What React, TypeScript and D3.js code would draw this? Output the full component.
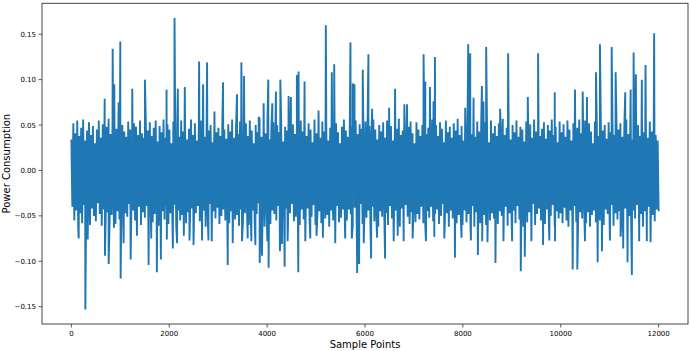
import React, { useMemo } from 'react';
import * as d3 from 'd3';

// Values in thousandths of the plotted unit.
// Band envelope: one max and one min for every 40-sample bin (300 bins).
const bandUpper = [
  34, 52, 41, 55, 38, 47, 56, 33, 44, 53, 39, 49, 30, 45, 55, 36, 51, 42, 48, 57,
  40, 53, 35, 46, 56, 31, 50, 43, 37, 54, 45, 33, 52, 48, 39, 55, 41, 36, 50, 44,
  53, 38, 47, 55, 32, 49, 42, 56, 36, 51, 45, 30, 54, 40, 48, 37, 55, 43, 50, 34,
  46, 56, 39, 52, 33, 48, 55, 41, 37, 53, 44, 50, 31, 56, 42, 47, 38, 54, 45, 35,
  51, 43, 56, 36, 49, 40, 54, 33, 47, 52, 38, 55, 44, 30, 50, 42, 57, 37, 48, 41,
  55, 34, 46, 53, 39, 50, 42, 56, 32, 48, 44, 54, 37, 51, 40, 46, 35, 55, 43, 49,
  38, 52, 45, 31, 56, 41, 49, 36, 54, 43, 50, 33, 47, 55, 39, 52, 42, 30, 48, 56,
  44, 37, 53, 48, 35, 55, 40, 51, 46, 32, 54, 42, 49, 38, 56, 45, 34, 50, 43, 53,
  36, 55, 42, 49, 33, 52, 46, 57, 39, 44, 51, 35, 48, 54, 41, 30, 53, 45, 38, 50,
  54, 40, 47, 35, 56, 43, 50, 38, 53, 46, 31, 55, 42, 48, 36, 52, 44, 57, 39, 49,
  33, 51, 45, 56, 40, 48, 37, 54, 43, 50, 35, 53, 46, 31, 55, 41, 49, 38, 52, 44,
  57, 39, 47, 53, 34, 50, 42, 55, 37, 48, 45, 32, 54, 40, 51, 36, 56, 43, 49, 38,
  46, 53, 35, 50, 44, 56, 39, 48, 31, 54, 42, 51, 37, 55, 45, 33, 52, 40, 47, 56,
  41, 49, 55, 36, 52, 43, 30, 54, 47, 38, 56, 44, 50, 35, 53, 42, 48, 39, 55, 45,
  52, 37, 48, 56, 40, 46, 34, 53, 44, 50, 38, 55, 42, 49, 36, 54, 43, 51, 39, 33,
];

const bandLower = [
  -40, -55, -44, -62, -47, -58, -38, -52, -45, -60, -42, -50, -56, -36, -48, -61, -43, -53, -46, -57,
  -49, -38, -59, -45, -54, -41, -62, -47, -51, -37, -58, -44, -55, -48, -40, -60, -46, -52, -39, -56,
  -43, -57, -48, -36, -61, -50, -45, -54, -40, -59, -47, -52, -38, -62, -44, -55, -49, -41, -58, -46,
  -53, -42, -60, -47, -39, -56, -51, -44, -62, -48, -37, -57, -45, -53, -41, -59, -50, -43, -55, -47,
  -58, -45, -40, -54, -49, -61, -43, -56, -47, -38, -60, -52, -44, -57, -48, -36, -55, -46, -62, -41,
  -50, -59, -44, -48, -55, -39, -62, -46, -53, -42, -58, -47, -37, -56, -51, -45, -60, -43, -54, -49,
  -42, -56, -51, -38, -60, -47, -45, -58, -40, -53, -49, -62, -44, -55, -46, -39, -57, -52, -43, -61,
  -55, -43, -48, -61, -41, -54, -50, -37, -59, -46, -52, -44, -58, -40, -56, -49, -62, -45, -51, -38,
  -47, -60, -39, -53, -57, -44, -49, -62, -42, -55, -38, -51, -59, -46, -43, -57, -48, -54, -40, -58,
  -61, -45, -52, -40, -56, -48, -43, -59, -50, -37, -55, -47, -62, -44, -53, -41, -58, -49, -46, -60,
  -44, -57, -48, -54, -39, -62, -46, -51, -58, -42, -49, -60, -38, -55, -47, -53, -41, -59, -45, -50,
  -56, -40, -61, -47, -52, -44, -58, -39, -54, -49, -62, -43, -57, -46, -51, -37, -60, -48, -42, -55,
  -48, -59, -43, -56, -50, -38, -61, -45, -53, -47, -58, -41, -55, -62, -44, -52, -39, -57, -49, -46,
  -53, -41, -58, -46, -62, -49, -44, -57, -40, -55, -51, -60, -43, -48, -56, -38, -61, -47, -54, -45,
  -59, -47, -42, -55, -50, -61, -44, -53, -38, -57, -48, -62, -45, -52, -40, -58, -49, -56, -43, -45,
];

// Upward spikes: sample index and value
const peakSamples = [
  681, 844, 877, 966, 1000, 1244, 1503, 1945, 2108, 2176, 2318, 2610, 2692, 2773, 2924,
  3100, 3385, 3474, 3528, 3828, 3929, 4024, 4106, 4180, 4270, 4439, 4486, 4608, 4643, 4765,
  5051, 5200, 5322, 5371, 5703, 5750, 5785, 5954, 6070, 6146, 6492, 6614, 6804, 6859, 7197,
  7232, 7328, 7400, 7430, 8048, 8109, 8150, 8218, 8389, 8421, 8476, 8761, 8925, 9327, 9537,
  9877, 10291, 10448, 10536, 10720, 10801, 11040, 11121, 11318, 11428, 11489, 11535, 11657, 11732, 11908,
];
const peakValues = [
  79, 134, 95, 75, 142, 90, 100, 89, 168, 90, 92, 120, 95, 119, 65,
  97, 84, 119, 104, 59, 74, 100, 74, 87, 100, 82, 81, 105, 109, 98,
  66, 160, 108, 117, 141, 96, 95, 111, 128, 68, 69, 90, 73, 73, 128,
  98, 92, 76, 125, 69, 139, 129, 80, 93, 76, 136, 68, 129, 81, 129,
  86, 89, 87, 81, 108, 139, 136, 108, 86, 89, 130, 106, 100, 116, 151,
];

// Downward spikes: sample index and value
const dipSamples = [
  150, 286, 334, 687, 762, 871, 1007, 1068, 1211, 1340, 1578, 1632, 1747, 1829, 1951,
  2074, 2161, 2298, 2414, 2496, 2671, 2801, 2869, 3195, 3297, 3487, 3603, 3678, 3760, 3848,
  3895, 4005, 4031, 4262, 4303, 4358, 4419, 4637, 4780, 4882, 5010, 5139, 5392, 5595, 5730,
  5840, 5880, 5974, 6125, 6247, 6410, 6586, 6668, 6790, 6973, 7246, 7416, 7620, 7838, 7973,
  8164, 8307, 8395, 8503, 8666, 8829, 9006, 9183, 9265, 9400, 9638, 9767, 9883, 10244, 10338,
  10495, 10754, 10842, 11005, 11223, 11276, 11365, 11453, 11602, 11759, 11835,
];
const dipValues = [
  -75, -153, -76, -94, -103, -63, -119, -80, -98, -72, -104, -75, -112, -98, -76,
  -86, -80, -72, -77, -82, -77, -77, -78, -104, -80, -78, -75, -78, -82, -102,
  -94, -78, -107, -89, -81, -106, -78, -112, -78, -75, -72, -74, -80, -75, -75,
  -113, -103, -80, -97, -74, -97, -78, -72, -78, -75, -78, -73, -75, -96, -74,
  -77, -93, -78, -79, -102, -78, -78, -111, -95, -78, -82, -77, -78, -109, -109,
  -78, -101, -89, -77, -73, -86, -101, -115, -78, -78, -79,
];

const xTicks = [0, 2000, 4000, 6000, 8000, 10000, 12000];
const yTicks = [-0.15, -0.1, -0.05, 0, 0.05, 0.1, 0.15];

const W = 690;
const H = 351;
const M = { left: 42, right: 2, top: 3.3, bottom: 27 };
const LAST = 12000;

const fmtY = (v: number) => v.toFixed(2).replace('-', '\u2212');

const App = () => {
  const series = useMemo(() => {
    const pts: [number, number][] = [];
    const n = bandUpper.length * 2;
    bandUpper.forEach((u, k) => {
      pts.push([(2 * k) * LAST / (n - 1), u / 1000]);
      pts.push([(2 * k + 1) * LAST / (n - 1), bandLower[k] / 1000]);
    });
    peakSamples.forEach((s, i) => pts.push([s, peakValues[i] / 1000]));
    dipSamples.forEach((s, i) => pts.push([s, dipValues[i] / 1000]));
    return pts.sort((a, b) => a[0] - b[0]);
  }, []);

  const [yMin, yMax] = d3.extent(series, d => d[1]) as [number, number];
  const yPad = (yMax - yMin) * 0.05;

  const x = d3.scaleLinear()
    .domain([-LAST * 0.05, LAST * 1.05])
    .range([M.left, W - M.right]);
  const y = d3.scaleLinear()
    .domain([yMin - yPad, yMax + yPad])
    .range([H - M.bottom, M.top]);

  const line = d3.line<[number, number]>()
    .x(d => x(d[0]))
    .y(d => y(d[1]));

  const bottom = H - M.bottom;

  return (
    <svg width={W} height={H} style={{ position: 'absolute', left: 0, top: 0 }}
      fontFamily="DejaVu Sans, sans-serif">
      <rect x={0} y={0} width={W} height={H} fill="#fff" />
      <path d={line(series) || ''} fill="none" stroke="#1f77b4" strokeWidth={1.9}
        strokeLinejoin="miter" strokeMiterlimit={2} />

      <rect x={M.left} y={M.top} width={W - M.right - M.left} height={bottom - M.top}
        fill="none" stroke="#333" strokeWidth={0.9} />

      {yTicks.map(t => (
        <g key={t} transform={`translate(0,${y(t)})`}>
          <line x1={M.left - 3.5} x2={M.left} stroke="#333" strokeWidth={0.8} />
          <text x={M.left - 6} dy="0.35em" textAnchor="end" fontSize={7} fill="#000">
            {fmtY(t)}
          </text>
        </g>
      ))}

      {xTicks.map(t => (
        <g key={t} transform={`translate(${x(t)},0)`}>
          <line y1={bottom} y2={bottom + 3.5} stroke="#333" strokeWidth={0.8} />
          <text y={bottom + 12} textAnchor="middle" fontSize={7} fill="#000">
            {t}
          </text>
        </g>
      ))}

      <text x={(M.left + W - M.right) / 2} y={348} textAnchor="middle" fontSize={10} fill="#000">
        Sample Points
      </text>
      <text transform={`translate(10,${(M.top + bottom) / 2}) rotate(-90)`} textAnchor="middle"
        fontSize={10} fill="#000">
        Power Consumption
      </text>
    </svg>
  );
};

export default App;
